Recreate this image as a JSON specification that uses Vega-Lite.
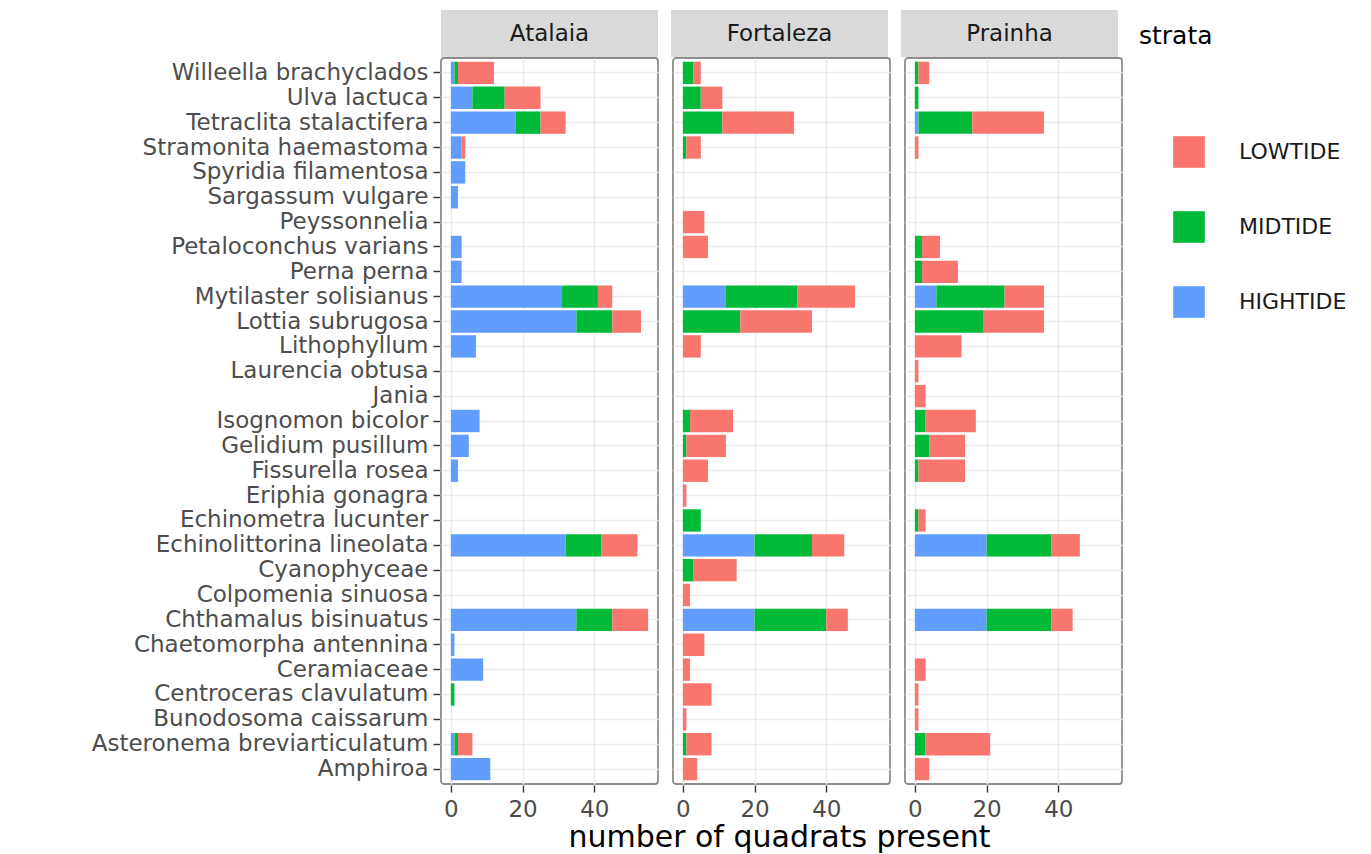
{
  "$schema": "https://vega.github.io/schema/vega-lite/v6.json",
  "padding": {"left": 91, "top": 10, "right": 5, "bottom": 5},
  "background": "white",
  "config": {
    "font": "DejaVu Sans",
    "view": {"stroke": "#8c8c8c", "strokeWidth": 1.8, "cornerRadius": 3},
    "axis": {
      "grid": true, "gridColor": "#ebebeb", "gridWidth": 1.4, "domain": false,
      "tickColor": "#333333", "tickSize": 7, "tickWidth": 1.4,
      "labelColor": "#4d4d4d", "labelFontSize": 23, "labelPadding": 5, "labelLimit": 600,
      "titleFontSize": 28, "titleFontWeight": "normal", "titleColor": "#000000"
    },
    "legend": {
      "orient": "right", "offset": 2, "padding": 14,
      "symbolType": "square", "symbolSize": 1000, "symbolStrokeWidth": 0,
      "rowPadding": 43, "titlePadding": 87, "labelOffset": 34, "symbolOffset": 34,
      "labelFontSize": 22, "labelColor": "#1a1a1a", "labelLimit": 400,
      "titleFontSize": 25, "titleFontWeight": "normal", "titleColor": "#000000"
    }
  },
  "datasets": {
    "d": [
      {"site": "Atalaia", "species": "Willeella brachyclados", "strata": "HIGHTIDE", "n": 1},
      {"site": "Atalaia", "species": "Willeella brachyclados", "strata": "MIDTIDE", "n": 1},
      {"site": "Atalaia", "species": "Willeella brachyclados", "strata": "LOWTIDE", "n": 10},
      {"site": "Atalaia", "species": "Ulva lactuca", "strata": "HIGHTIDE", "n": 6},
      {"site": "Atalaia", "species": "Ulva lactuca", "strata": "MIDTIDE", "n": 9},
      {"site": "Atalaia", "species": "Ulva lactuca", "strata": "LOWTIDE", "n": 10},
      {"site": "Atalaia", "species": "Tetraclita stalactifera", "strata": "HIGHTIDE", "n": 18},
      {"site": "Atalaia", "species": "Tetraclita stalactifera", "strata": "MIDTIDE", "n": 7},
      {"site": "Atalaia", "species": "Tetraclita stalactifera", "strata": "LOWTIDE", "n": 7},
      {"site": "Atalaia", "species": "Stramonita haemastoma", "strata": "HIGHTIDE", "n": 3},
      {"site": "Atalaia", "species": "Stramonita haemastoma", "strata": "LOWTIDE", "n": 1},
      {"site": "Atalaia", "species": "Spyridia filamentosa", "strata": "HIGHTIDE", "n": 4},
      {"site": "Atalaia", "species": "Sargassum vulgare", "strata": "HIGHTIDE", "n": 2},
      {"site": "Atalaia", "species": "Petaloconchus varians", "strata": "HIGHTIDE", "n": 3},
      {"site": "Atalaia", "species": "Perna perna", "strata": "HIGHTIDE", "n": 3},
      {"site": "Atalaia", "species": "Mytilaster solisianus", "strata": "HIGHTIDE", "n": 31},
      {"site": "Atalaia", "species": "Mytilaster solisianus", "strata": "MIDTIDE", "n": 10},
      {"site": "Atalaia", "species": "Mytilaster solisianus", "strata": "LOWTIDE", "n": 4},
      {"site": "Atalaia", "species": "Lottia subrugosa", "strata": "HIGHTIDE", "n": 35},
      {"site": "Atalaia", "species": "Lottia subrugosa", "strata": "MIDTIDE", "n": 10},
      {"site": "Atalaia", "species": "Lottia subrugosa", "strata": "LOWTIDE", "n": 8},
      {"site": "Atalaia", "species": "Lithophyllum", "strata": "HIGHTIDE", "n": 7},
      {"site": "Atalaia", "species": "Isognomon bicolor", "strata": "HIGHTIDE", "n": 8},
      {"site": "Atalaia", "species": "Gelidium pusillum", "strata": "HIGHTIDE", "n": 5},
      {"site": "Atalaia", "species": "Fissurella rosea", "strata": "HIGHTIDE", "n": 2},
      {"site": "Atalaia", "species": "Echinolittorina lineolata", "strata": "HIGHTIDE", "n": 32},
      {"site": "Atalaia", "species": "Echinolittorina lineolata", "strata": "MIDTIDE", "n": 10},
      {"site": "Atalaia", "species": "Echinolittorina lineolata", "strata": "LOWTIDE", "n": 10},
      {"site": "Atalaia", "species": "Chthamalus bisinuatus", "strata": "HIGHTIDE", "n": 35},
      {"site": "Atalaia", "species": "Chthamalus bisinuatus", "strata": "MIDTIDE", "n": 10},
      {"site": "Atalaia", "species": "Chthamalus bisinuatus", "strata": "LOWTIDE", "n": 10},
      {"site": "Atalaia", "species": "Chaetomorpha antennina", "strata": "HIGHTIDE", "n": 1},
      {"site": "Atalaia", "species": "Ceramiaceae", "strata": "HIGHTIDE", "n": 9},
      {"site": "Atalaia", "species": "Centroceras clavulatum", "strata": "MIDTIDE", "n": 1},
      {"site": "Atalaia", "species": "Asteronema breviarticulatum", "strata": "HIGHTIDE", "n": 1},
      {"site": "Atalaia", "species": "Asteronema breviarticulatum", "strata": "MIDTIDE", "n": 1},
      {"site": "Atalaia", "species": "Asteronema breviarticulatum", "strata": "LOWTIDE", "n": 4},
      {"site": "Atalaia", "species": "Amphiroa", "strata": "HIGHTIDE", "n": 11},

      {"site": "Fortaleza", "species": "Willeella brachyclados", "strata": "MIDTIDE", "n": 3},
      {"site": "Fortaleza", "species": "Willeella brachyclados", "strata": "LOWTIDE", "n": 2},
      {"site": "Fortaleza", "species": "Ulva lactuca", "strata": "MIDTIDE", "n": 5},
      {"site": "Fortaleza", "species": "Ulva lactuca", "strata": "LOWTIDE", "n": 6},
      {"site": "Fortaleza", "species": "Tetraclita stalactifera", "strata": "MIDTIDE", "n": 11},
      {"site": "Fortaleza", "species": "Tetraclita stalactifera", "strata": "LOWTIDE", "n": 20},
      {"site": "Fortaleza", "species": "Stramonita haemastoma", "strata": "MIDTIDE", "n": 1},
      {"site": "Fortaleza", "species": "Stramonita haemastoma", "strata": "LOWTIDE", "n": 4},
      {"site": "Fortaleza", "species": "Peyssonnelia", "strata": "LOWTIDE", "n": 6},
      {"site": "Fortaleza", "species": "Petaloconchus varians", "strata": "LOWTIDE", "n": 7},
      {"site": "Fortaleza", "species": "Mytilaster solisianus", "strata": "HIGHTIDE", "n": 12},
      {"site": "Fortaleza", "species": "Mytilaster solisianus", "strata": "MIDTIDE", "n": 20},
      {"site": "Fortaleza", "species": "Mytilaster solisianus", "strata": "LOWTIDE", "n": 16},
      {"site": "Fortaleza", "species": "Lottia subrugosa", "strata": "MIDTIDE", "n": 16},
      {"site": "Fortaleza", "species": "Lottia subrugosa", "strata": "LOWTIDE", "n": 20},
      {"site": "Fortaleza", "species": "Lithophyllum", "strata": "LOWTIDE", "n": 5},
      {"site": "Fortaleza", "species": "Isognomon bicolor", "strata": "MIDTIDE", "n": 2},
      {"site": "Fortaleza", "species": "Isognomon bicolor", "strata": "LOWTIDE", "n": 12},
      {"site": "Fortaleza", "species": "Gelidium pusillum", "strata": "MIDTIDE", "n": 1},
      {"site": "Fortaleza", "species": "Gelidium pusillum", "strata": "LOWTIDE", "n": 11},
      {"site": "Fortaleza", "species": "Fissurella rosea", "strata": "LOWTIDE", "n": 7},
      {"site": "Fortaleza", "species": "Eriphia gonagra", "strata": "LOWTIDE", "n": 1},
      {"site": "Fortaleza", "species": "Echinometra lucunter", "strata": "MIDTIDE", "n": 5},
      {"site": "Fortaleza", "species": "Echinolittorina lineolata", "strata": "HIGHTIDE", "n": 20},
      {"site": "Fortaleza", "species": "Echinolittorina lineolata", "strata": "MIDTIDE", "n": 16},
      {"site": "Fortaleza", "species": "Echinolittorina lineolata", "strata": "LOWTIDE", "n": 9},
      {"site": "Fortaleza", "species": "Cyanophyceae", "strata": "MIDTIDE", "n": 3},
      {"site": "Fortaleza", "species": "Cyanophyceae", "strata": "LOWTIDE", "n": 12},
      {"site": "Fortaleza", "species": "Colpomenia sinuosa", "strata": "LOWTIDE", "n": 2},
      {"site": "Fortaleza", "species": "Chthamalus bisinuatus", "strata": "HIGHTIDE", "n": 20},
      {"site": "Fortaleza", "species": "Chthamalus bisinuatus", "strata": "MIDTIDE", "n": 20},
      {"site": "Fortaleza", "species": "Chthamalus bisinuatus", "strata": "LOWTIDE", "n": 6},
      {"site": "Fortaleza", "species": "Chaetomorpha antennina", "strata": "LOWTIDE", "n": 6},
      {"site": "Fortaleza", "species": "Ceramiaceae", "strata": "LOWTIDE", "n": 2},
      {"site": "Fortaleza", "species": "Centroceras clavulatum", "strata": "LOWTIDE", "n": 8},
      {"site": "Fortaleza", "species": "Bunodosoma caissarum", "strata": "LOWTIDE", "n": 1},
      {"site": "Fortaleza", "species": "Asteronema breviarticulatum", "strata": "MIDTIDE", "n": 1},
      {"site": "Fortaleza", "species": "Asteronema breviarticulatum", "strata": "LOWTIDE", "n": 7},
      {"site": "Fortaleza", "species": "Amphiroa", "strata": "LOWTIDE", "n": 4},

      {"site": "Prainha", "species": "Willeella brachyclados", "strata": "MIDTIDE", "n": 1},
      {"site": "Prainha", "species": "Willeella brachyclados", "strata": "LOWTIDE", "n": 3},
      {"site": "Prainha", "species": "Ulva lactuca", "strata": "MIDTIDE", "n": 1},
      {"site": "Prainha", "species": "Tetraclita stalactifera", "strata": "HIGHTIDE", "n": 1},
      {"site": "Prainha", "species": "Tetraclita stalactifera", "strata": "MIDTIDE", "n": 15},
      {"site": "Prainha", "species": "Tetraclita stalactifera", "strata": "LOWTIDE", "n": 20},
      {"site": "Prainha", "species": "Stramonita haemastoma", "strata": "LOWTIDE", "n": 1},
      {"site": "Prainha", "species": "Petaloconchus varians", "strata": "MIDTIDE", "n": 2},
      {"site": "Prainha", "species": "Petaloconchus varians", "strata": "LOWTIDE", "n": 5},
      {"site": "Prainha", "species": "Perna perna", "strata": "MIDTIDE", "n": 2},
      {"site": "Prainha", "species": "Perna perna", "strata": "LOWTIDE", "n": 10},
      {"site": "Prainha", "species": "Mytilaster solisianus", "strata": "HIGHTIDE", "n": 6},
      {"site": "Prainha", "species": "Mytilaster solisianus", "strata": "MIDTIDE", "n": 19},
      {"site": "Prainha", "species": "Mytilaster solisianus", "strata": "LOWTIDE", "n": 11},
      {"site": "Prainha", "species": "Lottia subrugosa", "strata": "MIDTIDE", "n": 19},
      {"site": "Prainha", "species": "Lottia subrugosa", "strata": "LOWTIDE", "n": 17},
      {"site": "Prainha", "species": "Lithophyllum", "strata": "LOWTIDE", "n": 13},
      {"site": "Prainha", "species": "Laurencia obtusa", "strata": "LOWTIDE", "n": 1},
      {"site": "Prainha", "species": "Jania", "strata": "LOWTIDE", "n": 3},
      {"site": "Prainha", "species": "Isognomon bicolor", "strata": "MIDTIDE", "n": 3},
      {"site": "Prainha", "species": "Isognomon bicolor", "strata": "LOWTIDE", "n": 14},
      {"site": "Prainha", "species": "Gelidium pusillum", "strata": "MIDTIDE", "n": 4},
      {"site": "Prainha", "species": "Gelidium pusillum", "strata": "LOWTIDE", "n": 10},
      {"site": "Prainha", "species": "Fissurella rosea", "strata": "MIDTIDE", "n": 1},
      {"site": "Prainha", "species": "Fissurella rosea", "strata": "LOWTIDE", "n": 13},
      {"site": "Prainha", "species": "Echinometra lucunter", "strata": "MIDTIDE", "n": 1},
      {"site": "Prainha", "species": "Echinometra lucunter", "strata": "LOWTIDE", "n": 2},
      {"site": "Prainha", "species": "Echinolittorina lineolata", "strata": "HIGHTIDE", "n": 20},
      {"site": "Prainha", "species": "Echinolittorina lineolata", "strata": "MIDTIDE", "n": 18},
      {"site": "Prainha", "species": "Echinolittorina lineolata", "strata": "LOWTIDE", "n": 8},
      {"site": "Prainha", "species": "Chthamalus bisinuatus", "strata": "HIGHTIDE", "n": 20},
      {"site": "Prainha", "species": "Chthamalus bisinuatus", "strata": "MIDTIDE", "n": 18},
      {"site": "Prainha", "species": "Chthamalus bisinuatus", "strata": "LOWTIDE", "n": 6},
      {"site": "Prainha", "species": "Ceramiaceae", "strata": "LOWTIDE", "n": 3},
      {"site": "Prainha", "species": "Centroceras clavulatum", "strata": "LOWTIDE", "n": 1},
      {"site": "Prainha", "species": "Bunodosoma caissarum", "strata": "LOWTIDE", "n": 1},
      {"site": "Prainha", "species": "Asteronema breviarticulatum", "strata": "MIDTIDE", "n": 3},
      {"site": "Prainha", "species": "Asteronema breviarticulatum", "strata": "LOWTIDE", "n": 18},
      {"site": "Prainha", "species": "Amphiroa", "strata": "LOWTIDE", "n": 4}
    ]
  },
  "spacing": 0,
  "vconcat": [
    {
      "data": {"values": [{"site": "Atalaia"}, {"site": "Fortaleza"}, {"site": "Prainha"}]},
      "facet": {"column": {"field": "site", "type": "nominal", "sort": ["Atalaia", "Fortaleza", "Prainha"], "header": {"labels": false, "title": null}}},
      "spacing": 13,
      "spec": {
        "width": 217, "height": 47,
        "view": {"fill": "#d9d9d9"},
        "mark": {"type": "text", "fontSize": 23, "color": "#1a1a1a"},
        "encoding": {"text": {"field": "site", "type": "nominal"}}
      }
    },
    {
      "data": {"name": "d"},
      "transform": [
        {"calculate": "indexof(['HIGHTIDE','MIDTIDE','LOWTIDE'], datum.strata)", "as": "so"}
      ],
      "facet": {"column": {"field": "site", "type": "nominal", "sort": ["Atalaia", "Fortaleza", "Prainha"], "header": {"labels": false, "title": null}}},
      "spacing": 13,
      "spec": {
        "width": 217, "height": 726,
        "mark": {"type": "bar"},
        "encoding": {
          "y": {
            "field": "species", "type": "nominal",
            "scale": {
              "domain": ["Willeella brachyclados", "Ulva lactuca", "Tetraclita stalactifera", "Stramonita haemastoma", "Spyridia filamentosa", "Sargassum vulgare", "Peyssonnelia", "Petaloconchus varians", "Perna perna", "Mytilaster solisianus", "Lottia subrugosa", "Lithophyllum", "Laurencia obtusa", "Jania", "Isognomon bicolor", "Gelidium pusillum", "Fissurella rosea", "Eriphia gonagra", "Echinometra lucunter", "Echinolittorina lineolata", "Cyanophyceae", "Colpomenia sinuosa", "Chthamalus bisinuatus", "Chaetomorpha antennina", "Ceramiaceae", "Centroceras clavulatum", "Bunodosoma caissarum", "Asteronema breviarticulatum", "Amphiroa"],
              "paddingInner": 0.1, "paddingOuter": 0.15
            },
            "axis": {"title": null, "bandPosition": 0.5}
          },
          "x": {
            "field": "n", "type": "quantitative", "stack": "zero",
            "scale": {"domain": [-2.75, 57.75], "nice": false, "zero": false},
            "axis": {"values": [0, 20, 40], "title": null, "labelPadding": 6}
          },
          "color": {
            "field": "strata", "type": "nominal",
            "scale": {"domain": ["LOWTIDE", "MIDTIDE", "HIGHTIDE"], "range": ["#F8766D", "#00BA38", "#619CFF"]},
            "legend": {"title": "strata"}
          },
          "order": {"field": "so", "type": "quantitative"}
        }
      }
    },
    {
      "width": 677, "height": 34,
      "data": {"values": [{"t": "number of quadrats present"}]},
      "view": {"stroke": null},
      "mark": {"type": "text", "fontSize": 30, "color": "#000000"},
      "encoding": {"text": {"field": "t", "type": "nominal"}}
    }
  ]
}
